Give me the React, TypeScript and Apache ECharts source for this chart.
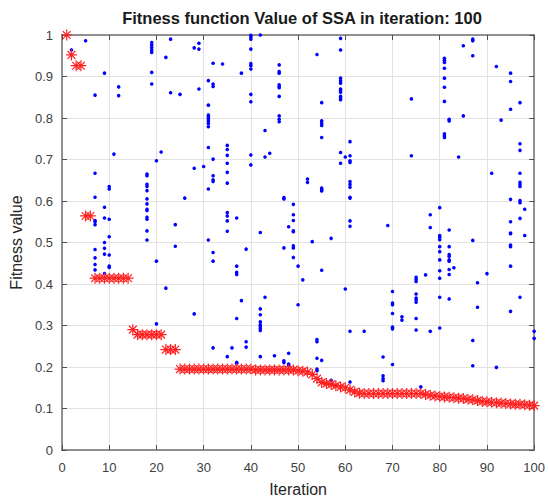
import React, { useEffect, useRef } from "react";
import * as echarts from "echarts";

// Best fitness value (red asterisks) for iterations 1..100
const bestFitness: number[] = [
  1.0, 0.952, 0.926, 0.926, 0.564, 0.564,
  0.414, 0.414, 0.414, 0.414, 0.414, 0.414, 0.414, 0.414,
  0.29,
  0.278, 0.278, 0.278, 0.278, 0.278, 0.278,
  0.242, 0.242, 0.242,
  0.195, 0.195, 0.195, 0.195, 0.195, 0.195, 0.195, 0.195,
  0.195, 0.195, 0.195, 0.195, 0.195, 0.195, 0.195, 0.195,
  0.193, 0.193, 0.193, 0.193, 0.193, 0.193, 0.193, 0.193, 0.193,
  0.191, 0.19, 0.188, 0.182, 0.172, 0.163, 0.16, 0.158, 0.155, 0.152, 0.15,
  0.145, 0.14, 0.137,
  0.136, 0.136, 0.136, 0.136, 0.136, 0.136, 0.136, 0.136, 0.136, 0.136, 0.136, 0.136, 0.136,
  0.134, 0.132, 0.13, 0.129, 0.128, 0.127, 0.126, 0.125, 0.124,
  0.122, 0.121, 0.119, 0.117, 0.116, 0.115, 0.114, 0.113, 0.112, 0.111,
  0.11, 0.11, 0.109, 0.108, 0.107,
];

// Population fitness values (blue dots), by iteration
const populationByIteration: Record<number, number[]> = {
  2: [0.964],
  5: [0.986],
  7: [0.855, 0.667, 0.609, 0.553, 0.55, 0.543, 0.483, 0.463, 0.447, 0.434],
  9: [0.908, 0.585, 0.559, 0.5, 0.486, 0.472, 0.425],
  10: [0.635, 0.629, 0.556, 0.514, 0.47, 0.443, 0.44],
  11: [0.713],
  12: [0.875, 0.854],
  18: [0.665, 0.661, 0.64, 0.635, 0.625, 0.605, 0.593, 0.58, 0.577, 0.561, 0.556, 0.528, 0.506],
  19: [0.982, 0.976, 0.97, 0.964, 0.958, 0.91, 0.882],
  20: [0.697, 0.455, 0.304],
  21: [0.718],
  22: [0.946, 0.39],
  23: [0.99, 0.861],
  24: [0.543, 0.491],
  25: [0.857],
  26: [0.607],
  28: [0.969, 0.679, 0.328],
  29: [0.98, 0.966, 0.87],
  30: [0.683],
  31: [0.89, 0.831, 0.807, 0.803, 0.798, 0.793, 0.787, 0.779, 0.729, 0.629, 0.506],
  32: [0.932, 0.882, 0.876, 0.701, 0.661, 0.651, 0.647, 0.476, 0.455, 0.246],
  34: [0.93],
  35: [0.734, 0.724, 0.71, 0.691, 0.669, 0.643, 0.572, 0.564, 0.552, 0.527, 0.225],
  36: [0.246],
  37: [0.559, 0.443, 0.428, 0.423, 0.317, 0.211, 0.209],
  38: [0.908, 0.36],
  39: [0.484, 0.261, 0.248],
  40: [0.999, 0.995, 0.99, 0.966, 0.931, 0.926, 0.918, 0.857, 0.839, 0.711, 0.687],
  42: [1.0, 0.524, 0.34, 0.326, 0.309, 0.302, 0.298, 0.293, 0.288, 0.225],
  43: [0.77, 0.706, 0.368],
  44: [0.715],
  45: [0.227],
  46: [0.928, 0.912, 0.908, 0.88, 0.876, 0.873, 0.852, 0.805, 0.797, 0.791],
  47: [0.608, 0.605, 0.487, 0.215, 0.211],
  48: [0.538, 0.233, 0.207, 0.205, 0.203],
  49: [0.592, 0.567, 0.553, 0.528, 0.526, 0.492, 0.487, 0.464],
  50: [0.443, 0.35],
  51: [0.41],
  52: [0.653, 0.645],
  53: [0.502],
  54: [0.953, 0.266, 0.261, 0.221, 0.195, 0.191],
  55: [0.837, 0.793, 0.787, 0.782, 0.753, 0.631, 0.627, 0.624, 0.433, 0.216],
  57: [0.51, 0.168],
  59: [0.992, 0.964, 0.896, 0.89, 0.884, 0.87, 0.866, 0.862, 0.852, 0.848, 0.844, 0.717, 0.691],
  60: [0.706, 0.388],
  61: [0.743, 0.709, 0.697, 0.693, 0.647, 0.64, 0.633, 0.609, 0.607, 0.552, 0.539, 0.286, 0.164],
  64: [0.286],
  68: [0.224, 0.179, 0.172, 0.167],
  69: [0.541],
  70: [0.382, 0.354, 0.35, 0.329, 0.296, 0.292, 0.206],
  72: [0.321, 0.313],
  74: [0.846, 0.709],
  75: [0.416, 0.411, 0.406, 0.376, 0.366, 0.362, 0.356, 0.317, 0.289],
  76: [0.152],
  77: [0.422],
  78: [0.567, 0.536, 0.286],
  80: [0.584, 0.517, 0.513, 0.507, 0.49, 0.478, 0.458, 0.432, 0.414, 0.368, 0.294],
  81: [0.944, 0.939, 0.934, 0.92, 0.896, 0.874, 0.84, 0.762, 0.757, 0.753],
  82: [0.797, 0.793, 0.53, 0.49, 0.471, 0.467, 0.458, 0.455, 0.435, 0.423, 0.364],
  83: [0.439],
  84: [0.706],
  85: [0.974, 0.805],
  87: [0.99, 0.986, 0.95, 0.505, 0.264, 0.203],
  88: [0.403, 0.344],
  90: [0.425],
  91: [0.667],
  92: [0.924, 0.199],
  93: [0.795],
  95: [0.908, 0.888, 0.821, 0.604, 0.55, 0.523, 0.521, 0.494, 0.49, 0.443, 0.334],
  97: [0.837, 0.738, 0.722, 0.667, 0.645, 0.64, 0.635, 0.601, 0.596, 0.558, 0.368],
  98: [0.58, 0.517],
  100: [0.286, 0.269],
};

const xTickStep = 10;
const yTickStep = 0.1;
const titleText = "Fitness function Value of SSA in iteration: 100";
const xLabel = "Iteration";
const yLabel = "Fitness value";

const ASTERISK =
  "path://M6 0L6 12M0 6L12 6M1.76 1.76L10.24 10.24M1.76 10.24L10.24 1.76";

export default function App() {
  const ref = useRef<HTMLDivElement>(null);
  useEffect(() => {
    document.body.style.margin = "0";
    if (!ref.current) return;
    const chart = echarts.init(ref.current, undefined, { renderer: "svg" });

    const popData: [number, number][] = [];
    Object.keys(populationByIteration).forEach((k) => {
      const it = Number(k);
      populationByIteration[it].forEach((v) => popData.push([it, v]));
    });
    const bestData = bestFitness.map((v, i) => [i + 1, v]);

    const font = "Liberation Sans, Arial, sans-serif";
    const axisLineStyle = { color: "#707070", width: 1.5 };
    const tickStyle = { color: "#505050", width: 1 };

    chart.setOption({
      animation: false,
      backgroundColor: "#ffffff",
      grid: { left: 62, top: 35, width: 475, height: 418, containLabel: false },
      graphic: [
        {
          type: "text",
          x: 302,
          y: 18,
          style: {
            text: titleText,
            font: `bold 16.5px ${font}`,
            fill: "#1a1a1a",
            align: "center",
            verticalAlign: "middle",
          },
        },
      ],
      xAxis: [
        {
          type: "value",
          min: 0,
          max: 100,
          interval: xTickStep,
          position: "bottom",
          axisLine: { show: true, onZero: false, lineStyle: axisLineStyle },
          axisTick: { show: true, inside: true, length: 5, lineStyle: tickStyle },
          splitLine: { show: true, lineStyle: { color: "#e2e2e2", width: 1 } },
          axisLabel: { fontSize: 13, color: "#404040", margin: 11, fontFamily: font },
          name: xLabel,
          nameLocation: "middle",
          nameGap: 31,
          nameTextStyle: { fontSize: 16, color: "#262626", fontFamily: font },
        },
        {
          type: "value",
          min: 0,
          max: 100,
          interval: xTickStep,
          position: "top",
          axisLine: { show: true, onZero: false, lineStyle: axisLineStyle },
          axisTick: { show: true, inside: true, length: 5, lineStyle: tickStyle },
          splitLine: { show: false },
          axisLabel: { show: false },
        },
      ],
      yAxis: [
        {
          type: "value",
          min: 0,
          max: 1,
          interval: yTickStep,
          position: "left",
          axisLine: { show: true, onZero: false, lineStyle: axisLineStyle },
          axisTick: { show: true, inside: true, length: 5, lineStyle: tickStyle },
          splitLine: { show: true, lineStyle: { color: "#e2e2e2", width: 1 } },
          axisLabel: {
            fontSize: 13,
            color: "#404040",
            margin: 9,
            fontFamily: font,
            formatter: (v: number) => String(Math.round(v * 10) / 10),
          },
          name: yLabel,
          nameLocation: "middle",
          nameGap: 34,
          nameTextStyle: { fontSize: 16, color: "#262626", fontFamily: font },
        },
        {
          type: "value",
          min: 0,
          max: 1,
          interval: yTickStep,
          position: "right",
          axisLine: { show: true, onZero: false, lineStyle: axisLineStyle },
          axisTick: { show: true, inside: true, length: 5, lineStyle: tickStyle },
          splitLine: { show: false },
          axisLabel: { show: false },
        },
      ],
      series: [
        {
          type: "scatter",
          xAxisIndex: 0,
          yAxisIndex: 0,
          data: popData,
          symbol: "circle",
          symbolSize: 3.6,
          itemStyle: { color: "#0000ff", opacity: 1 },
          silent: true,
          z: 2,
        },
        {
          type: "scatter",
          xAxisIndex: 0,
          yAxisIndex: 0,
          data: bestData,
          symbol: ASTERISK,
          symbolSize: 11,
          itemStyle: { color: "#ff0000", borderColor: "#ff2020", borderWidth: 1.2, opacity: 1 },
          silent: true,
          z: 3,
        },
      ],
    });
    return () => chart.dispose();
  }, []);
  return <div ref={ref} style={{ width: 548, height: 502 }} />;
}
